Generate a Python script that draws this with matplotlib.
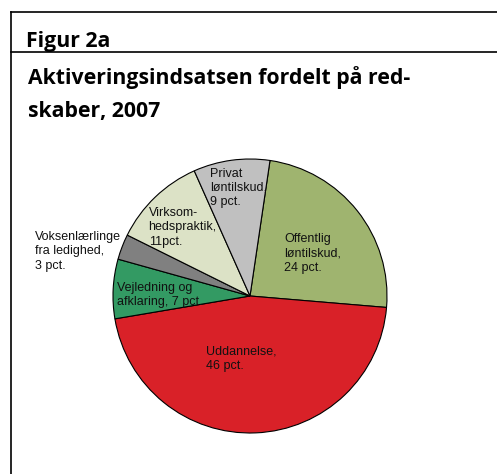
import matplotlib
matplotlib.use('Agg')
import matplotlib.pyplot as plt
from matplotlib.lines import Line2D

# shares in pct., clockwise from the top
categories = ['Offentlig\nløntilskud,\n24 pct.', 'Uddannelse,\n46 pct.', 'Vejledning og\nafklaring, 7 pct.',
              'Voksenlærlinge\nfra ledighed,\n3 pct.', 'Virksom-\nhedspraktik,\n11pct.', 'Privat\nløntilskud,\n9 pct.']
shares = [24, 46, 7, 3, 11, 9]
colors = ['#9fb46f', '#d92128', '#339a63', '#808080', '#dce2c6', '#c0c0c0']

# where each label sits (pie data coords, left edge / vertical centre)
label_pos = [(0.25, 0.31), (-0.32, -0.46), (-0.97, 0.01), (-1.57, 0.325), (-0.74, 0.5), (-0.29, 0.79)]

W, H = 497, 474
fig = plt.figure(figsize=(W / 100, H / 100), dpi=100)

# frame lines
fig.add_artist(Line2D([10.5 / W, 1], [1 - 11.5 / H] * 2, color='black', lw=1.2))
fig.add_artist(Line2D([10.5 / W, 1], [1 - 52 / H] * 2, color='black', lw=1.2))
fig.add_artist(Line2D([10.5 / W] * 2, [0, 1 - 11.5 / H], color='black', lw=1.2))

title_font = dict(family='Open Sans', weight='bold', fontsize=15.3, color='black')
fig.text(26 / W, 1 - 47 / H, 'Figur 2a', ha='left', va='baseline', **title_font)
fig.text(28 / W, 1 - 84 / H, 'Aktiveringsindsatsen fordelt på red-', ha='left', va='baseline', **title_font)
fig.text(28 / W, 1 - 117 / H, 'skaber, 2007', ha='left', va='baseline', **title_font)

# pie: centre (250, 296) px, radius 137 px
cx, cy, r = 250, 296, 137
ax = fig.add_axes([(cx - r) / W, 1 - (cy + r) / H, 2 * r / W, 2 * r / H])
ax.pie(shares, colors=colors, startangle=81.6, counterclock=False, radius=1,
       wedgeprops=dict(edgecolor='black', linewidth=0.8))
ax.set_xlim(-1, 1)
ax.set_ylim(-1, 1)
ax.set_aspect('equal')
ax.axis('off')

for lab, (x, y) in zip(categories, label_pos):
    ax.text(x, y, lab, ha='left', va='center', fontsize=9, family='Liberation Sans',
            linespacing=1.25, color='#111111')

fig.savefig('out.png', dpi=100)
